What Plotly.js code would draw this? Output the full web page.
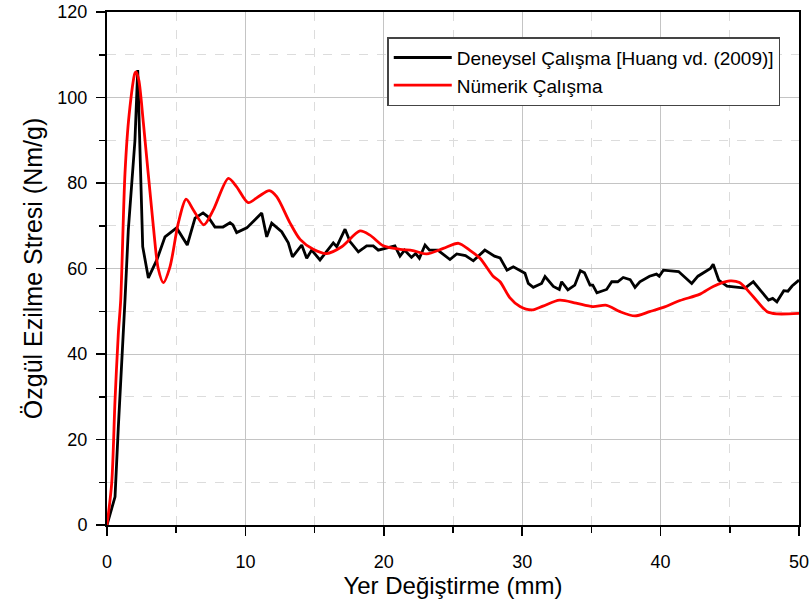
<!DOCTYPE html>
<html>
<head>
<meta charset="utf-8">
<script src="https://cdn.plot.ly/plotly-3.0.1.min.js"></script>
<style>html,body{margin:0;padding:0;background:#fff;}#chart{width:812px;height:606px;}</style>
</head>
<body>
<div id="chart"></div>
<script>
const expX = [0,0.58,0.82,1.06,1.3,1.54,2.02,2.22,2.58,2.99,3.6,4.19,5.03,5.8,6.36,6.94,7.3,7.8,8.38,8.89,9.1,9.37,10.1,11.18,11.54,11.9,12.62,13.1,13.4,14.07,14.43,14.79,15.39,16.35,16.6,17.2,17.56,18.16,18.76,19.24,19.6,20.8,21.17,21.5,22.0,22.3,22.57,22.98,23.3,23.9,24.78,25.27,25.9,26.47,27.3,28.0,28.4,28.9,29.36,30.2,30.44,30.8,31.4,31.65,32.25,32.68,32.85,33.3,33.8,34.2,34.5,34.9,35.1,35.4,36.1,36.47,36.9,37.3,37.8,38.15,38.5,39.2,39.7,39.9,40.2,41.3,42.25,42.7,43.3,43.6,43.8,44.2,44.8,46.1,46.7,47.8,48.1,48.4,48.9,49.2,49.5,50];
const expY = [0,6.6,23,37,52.6,69,90,106.4,65.1,57.8,62,67.4,69.5,65.5,71.8,73,72.1,69.7,69.7,70.7,70.2,68.4,69.5,73,67.4,70.6,68.6,66,62.7,65.5,62.4,64.3,62,66,65.1,69.2,66.3,63.9,65.3,65.3,64.3,65.3,62.9,64.3,62.6,63.5,62.4,65.5,64.3,64.3,62.1,63.4,63,61.8,64.3,62.9,62.5,59.6,60.4,58.9,56.5,55.6,56.5,58.1,55.8,55.1,56.9,55,56.1,59.5,59,56.1,56.1,54.3,55.1,56.9,56.9,57.9,57.4,55.6,56.9,58.2,58.7,58.2,59.6,59.3,56.5,58.2,59.4,60,61,57.3,55.9,55.4,56.9,52.6,53,52.2,54.8,54.7,55.9,57.3];
const numX = [0,0.34,0.58,0.82,0.99,1.3,1.6,2.02,2.1,2.3,2.63,3.35,3.7,4.07,4.55,5.15,5.71,6.24,7.0,7.68,8.77,9.37,10.2,10.93,11.73,12.26,13.2,13.95,14.9,15.87,16.96,18.28,19,19.97,21.17,22.1,23.1,24.3,25.4,26.2,26.95,27.9,28.4,29.1,29.84,30.7,31.5,32.7,33.9,35.1,36.1,37.07,38.15,39.2,40.2,41.4,42.85,43.8,45,45.7,46.7,47.7,48.4,50];
const numY = [0,9.8,29.2,44.9,52.6,82.3,96,105.7,106,104,94,69.8,60,56.7,60.4,70.6,76.2,73.7,70.2,73.7,81.1,79.1,75.4,76.8,78.2,76.8,70.8,66.8,64.5,63.5,65.1,68.8,67.8,65.3,64.5,64.2,63.4,64.7,65.9,64.3,62.4,58.2,56.9,53.2,51.1,50.3,51.2,52.6,51.9,51.1,51.4,49.9,48.9,49.9,50.9,52.5,54,55.8,57.1,56.7,53.4,49.9,49.4,49.5];
const seriesNames = ['Deneysel Çalışma [Huang vd. (2009)]','Nümerik Çalışma'];
const xTitle = 'Yer Değiştirme (mm)';
const yTitle = 'Özgül Ezilme Stresi (Nm/g)';

const font = 'Arial, "Liberation Sans", sans-serif';
const traces = [
  {x: expX, y: expY, name: seriesNames[0], mode: 'lines', line: {color: '#000000', width: 2.8}},
  {x: numX, y: numY, name: seriesNames[1], mode: 'lines', line: {color: '#ff0000', width: 2.8, shape: 'spline', smoothing: 0.8}}
];
const axisCommon = {
  showline: true, linecolor: '#000', linewidth: 2, mirror: true,
  ticks: 'outside', ticklen: 9, tickwidth: 1.5, tickcolor: '#000',
  showgrid: true, gridcolor: '#c4c4c4', gridwidth: 1,
  zeroline: false,
  tickfont: {family: font, size: 18, color: '#000'}
};
const layout = {
  width: 812, height: 606,
  margin: {l: 107, r: 13, t: 12, b: 81},
  paper_bgcolor: '#fff', plot_bgcolor: '#fff',
  showlegend: true,
  legend: {x: 0.405, y: 0.951, xanchor: 'left', yanchor: 'top',
    bordercolor: '#444', borderwidth: 1.5, bgcolor: '#fff', itemwidth: 58,
    font: {family: font, size: 19, color: '#000'}, tracegroupgap: 0},
  xaxis: Object.assign({}, axisCommon, {
    range: [0, 50], dtick: 10, tick0: 0, ticklabelstandoff: 10,
    minor: {dtick: 5, showgrid: true, gridcolor: '#dcdcdc', griddash: 'dash', ticks: 'outside', ticklen: 6, tickcolor: '#000'},
    title: {text: xTitle, font: {family: font, size: 24, color: '#000'}, standoff: 6}
  }),
  yaxis: Object.assign({}, axisCommon, {
    range: [0, 120], dtick: 20, tick0: 0, ticklabelstandoff: 5,
    minor: {dtick: 10, showgrid: true, gridcolor: '#dcdcdc', griddash: 'dash', ticks: 'outside', ticklen: 6, tickcolor: '#000'},
    title: {text: yTitle, font: {family: font, size: 25, color: '#000'}, standoff: 8}
  })
};
Plotly.newPlot('chart', traces, layout, {displayModeBar: false, staticPlot: true});
</script>
</body>
</html>
